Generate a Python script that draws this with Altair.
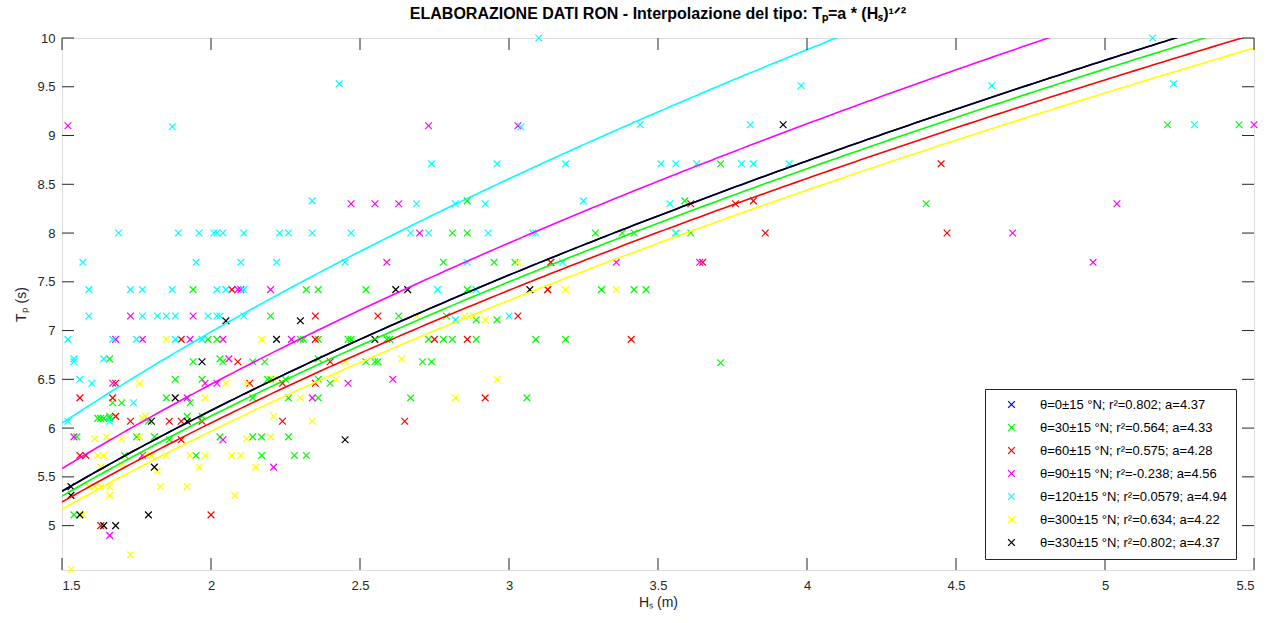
import altair as alt
import pandas as pd
import numpy as np

# ---------------- data ----------------
labels = [
    "θ=0±15 °N; r²=0.802; a=4.37",
    "θ=30±15 °N; r²=0.564; a=4.33",
    "θ=60±15 °N; r²=0.575; a=4.28",
    "θ=90±15 °N; r²=-0.238; a=4.56",
    "θ=120±15 °N; r²=0.0579; a=4.94",
    "θ=300±15 °N; r²=0.634; a=4.22",
    "θ=330±15 °N; r²=0.802; a=4.37",
]
colors = ["#0000FF", "#00FF00", "#FF0000", "#FF00FF", "#00FFFF", "#FFFF00", "#000000"]
a_values = [4.37, 4.33, 4.28, 4.56, 4.94, 4.22, 4.37]

blue_hs = []
blue_tp = []

green_hs = [1.94, 2.32, 2.36, 2.20, 1.99, 2.02, 2.30, 2.31, 2.36, 2.46, 2.47,
            1.66, 2.03, 2.36, 1.94, 2.04, 2.14, 2.18,
            1.88, 1.97, 2.19, 2.20, 2.25, 2.36, 2.40,
            1.85, 2.14, 2.26, 2.36, 1.67, 1.70, 1.93,
            1.62, 1.63, 1.64, 1.66, 1.66, 1.92, 1.97, 1.79,
            1.55, 1.75, 1.81, 2.03, 2.14, 2.17, 2.26, 1.86,
            1.71, 1.95, 2.17, 2.28, 2.32, 1.54,
            2.86, 2.81, 2.86, 3.29, 3.38, 3.42,
            2.78, 2.95, 3.02, 3.14,
            2.52, 2.86, 3.13, 3.31, 3.42,
            2.63, 2.79, 2.89, 2.96,
            2.59, 2.60, 2.73, 2.78, 2.81, 2.89, 3.09, 3.19,
            2.52, 2.55, 2.56, 2.71, 2.74,
            2.67, 3.06,
            3.71, 3.59, 4.40, 3.56, 3.61, 3.46,
            5.21, 5.45, 3.71]
green_tp = [7.42, 7.42, 7.42, 7.15, 6.91, 6.91, 6.91, 6.91, 6.91, 6.91, 6.91,
            6.71, 6.71, 6.71, 6.68, 6.68, 6.68, 6.68,
            6.50, 6.50, 6.50, 6.50, 6.50, 6.50, 6.46,
            6.31, 6.31, 6.31, 6.31, 6.26, 6.26, 6.26,
            6.10, 6.10, 6.10, 6.10, 6.12, 6.12, 6.12, 6.07,
            5.91, 5.91, 5.91, 5.91, 5.91, 5.91, 5.91, 5.88,
            5.72, 5.72, 5.72, 5.72, 5.72, 5.11,
            8.33, 8.00, 8.00, 8.00, 8.00, 8.00,
            7.70, 7.70, 7.70, 7.70,
            7.42, 7.42, 7.42, 7.42, 7.42,
            7.15, 7.15, 7.11, 7.11,
            6.91, 6.91, 6.91, 6.91, 6.91, 6.91, 6.91, 6.91,
            6.68, 6.68, 6.68, 6.68, 6.68,
            6.31, 6.31,
            8.71, 8.33, 8.30, 8.00, 8.00, 7.42,
            9.11, 9.11, 6.67]

red_hs = [2.07, 2.35, 1.90, 2.35, 2.09, 2.40,
          1.68, 2.13, 2.24, 2.35,
          1.56, 1.67, 1.68,
          1.73, 1.86, 1.90, 1.97, 2.24,
          1.90, 1.56, 1.58, 2.00, 1.63,
          3.14, 3.13,
          2.56, 3.03, 2.75, 2.86, 3.41, 2.92, 2.65,
          4.45, 3.61, 3.76, 3.82, 3.86, 4.47, 3.65]
red_tp = [7.42, 7.15, 6.91, 6.91, 6.68, 6.68,
          6.46, 6.46, 6.46, 6.46,
          6.31, 6.31, 6.12,
          6.07, 6.07, 6.07, 6.07, 6.07,
          5.88, 5.72, 5.72, 5.11, 5.00,
          7.70, 7.42,
          7.15, 7.15, 6.91, 6.91, 6.91, 6.31, 6.07,
          8.71, 8.30, 8.30, 8.33, 8.00, 8.00, 7.70]

magenta_hs = [1.52, 2.47, 2.09, 2.10, 2.20,
              1.73, 1.94,
              1.68, 1.77, 1.93, 2.04, 2.27,
              2.06,
              1.67, 1.98, 2.02, 2.46,
              1.92, 2.34,
              1.54, 2.04, 1.77, 2.21, 1.66,
              2.73, 3.03, 2.55, 2.63, 2.70, 2.59, 3.36,
              2.61, 3.64,
              5.50, 5.04, 4.69, 4.96]
magenta_tp = [9.10, 8.30, 7.42, 7.42, 7.42,
              7.15, 7.15,
              6.91, 6.91, 6.91, 6.91, 6.91,
              6.71,
              6.46, 6.46, 6.46, 6.46,
              6.31, 6.31,
              5.91, 5.88, 5.72, 5.60, 4.90,
              9.10, 9.10, 8.30, 8.30, 8.00, 7.70, 7.70,
              6.50, 7.70,
              9.11, 8.30, 8.00, 7.70]

cyan_hs = [1.87, 2.43, 2.34,
           1.69, 1.89, 1.96, 2.01, 2.02, 2.04, 2.11, 2.23, 2.26, 2.34, 2.47,
           1.57, 1.95, 2.10, 2.22, 2.45,
           1.59, 1.73, 1.77, 1.87, 2.02, 2.05, 2.11,
           1.59, 1.77, 1.82, 1.85, 1.88, 1.99, 2.02, 2.03, 2.11,
           1.52, 1.67, 1.75, 1.88, 1.97,
           1.54, 1.64, 1.54, 1.56, 1.60, 1.74, 1.52, 1.66,
           3.10, 3.04, 2.74, 2.96, 3.19,
           2.69, 2.82, 2.92, 3.25,
           2.67, 2.73, 2.93, 3.08, 3.09,
           2.86, 3.18, 2.76, 2.89,
           2.82, 3.00,
           3.98, 3.44, 3.81,
           3.51, 3.56, 3.63, 3.78, 3.82, 3.94,
           3.54, 3.56,
           5.16, 4.62, 5.23, 5.30]
cyan_tp = [9.09, 9.53, 8.33,
           8.00, 8.00, 8.00, 8.00, 8.00, 8.00, 8.00, 8.00, 8.00, 8.00, 8.00,
           7.70, 7.70, 7.70, 7.70, 7.70,
           7.42, 7.42, 7.42, 7.42, 7.42, 7.42, 7.42,
           7.15, 7.15, 7.15, 7.15, 7.15, 7.15, 7.15, 7.15, 7.15,
           6.91, 6.91, 6.91, 6.91, 6.91,
           6.71, 6.71, 6.68, 6.50, 6.46, 6.26, 6.07, 6.07,
           10.0, 9.09, 8.71, 8.71, 8.71,
           8.30, 8.30, 8.30, 8.33,
           8.00, 8.00, 8.00, 8.00, 8.00,
           7.70, 7.70, 7.42, 7.42,
           7.11, 7.15,
           9.51, 9.11, 9.11,
           8.71, 8.71, 8.71, 8.71, 8.71, 8.71,
           8.30, 8.00,
           10.0, 9.51, 9.53, 9.11]

yellow_hs = [1.85, 2.17, 2.45, 2.21, 2.42,
             1.76, 2.05, 2.12,
             1.98, 2.30,
             1.77, 1.78, 2.21, 2.34,
             1.61, 1.65, 1.70, 1.76, 2.12, 2.20,
             1.62, 1.64, 1.78, 1.80, 1.85, 1.93, 1.98, 2.07, 2.10,
             1.63, 1.70, 1.96, 2.15, 1.82,
             1.59, 1.61, 1.63, 1.66, 1.83, 1.92,
             1.66, 2.08, 1.57, 1.73, 1.53,
             3.03, 3.19, 3.36,
             2.69, 2.85, 2.88, 2.92, 2.64, 2.96, 2.82]
yellow_tp = [6.91, 6.91, 6.68, 6.50, 6.50,
             6.46, 6.46, 6.46,
             6.31, 6.31,
             6.10, 6.12, 6.12, 6.07,
             5.89, 5.91, 5.89, 5.91, 5.89, 5.91,
             5.72, 5.72, 5.72, 5.72, 5.72, 5.72, 5.72, 5.72, 5.72,
             5.60, 5.63, 5.60, 5.60, 5.56,
             5.40, 5.40, 5.40, 5.40, 5.40, 5.40,
             5.31, 5.31, 5.11, 4.70, 4.55,
             7.70, 7.42, 7.42,
             7.15, 7.15, 7.15, 7.11, 6.71, 6.50, 6.31]

black_hs = [2.05, 2.30, 2.22, 1.97, 1.88, 1.80, 1.92, 2.45, 1.81,
            1.53, 1.53, 1.56, 1.79, 1.64, 1.68,
            2.62, 2.66, 3.07, 2.55, 3.92]
black_tp = [7.10, 7.10, 6.91, 6.68, 6.31, 6.07, 6.07, 5.88, 5.60,
            5.40, 5.31, 5.11, 5.11, 5.00, 5.00,
            7.42, 7.42, 7.42, 6.91, 9.11]

x_ticks = [1.5, 2, 2.5, 3, 3.5, 4, 4.5, 5, 5.5]
y_ticks = [5, 5.5, 6, 6.5, 7, 7.5, 8, 8.5, 9, 9.5, 10]

# ---------------- tables ----------------
series_hs = [blue_hs, green_hs, red_hs, magenta_hs, cyan_hs, yellow_hs, black_hs]
series_tp = [blue_tp, green_tp, red_tp, magenta_tp, cyan_tp, yellow_tp, black_tp]
rows = []
for lab, hs, tp in zip(labels, series_hs, series_tp):
    for h, t in zip(hs, tp):
        rows.append({"Hs": h, "Tp": t, "serie": lab})
pts = pd.DataFrame(rows)

grid = np.linspace(1.5, 5.5, 201)
crows = []
for i, (lab, a) in enumerate(zip(labels, a_values)):
    for h in grid:
        crows.append({"Hs": h, "Tp": a * np.sqrt(h), "serie": lab, "k": i})
curves = pd.DataFrame(crows)

xt = pd.DataFrame({"v": x_ticks})
yt = pd.DataFrame({"v": y_ticks})

# ---------------- chart ----------------
W, H = 1192, 532
FONT = "Liberation Sans"
AX = "#262626"
XPATH = "M-1,-1L1,1M-1,1L1,-1"

xs = alt.Scale(domain=[1.5, 5.5], nice=False, zero=False)
ys = alt.Scale(domain=[4.545, 10], nice=False, zero=False)

x_axis = alt.Axis(values=x_ticks, format="~g", ticks=True, tickSize=5, tickOpacity=0,
                  domain=False, grid=False,
                  labelFont=FONT, labelFontSize=13, labelColor=AX, labelPadding=4,
                  title="Hₛ (m)", titleFont=FONT, titleFontSize=14, titleFontWeight="normal",
                  titleColor=AX, titlePadding=3)
y_axis = alt.Axis(values=y_ticks, format="~g", ticks=False, domain=False, grid=False,
                  labelFont=FONT, labelFontSize=13, labelColor=AX, labelPadding=7,
                  title="Tₚ (s)", titleFont=FONT, titleFontSize=14, titleFontWeight="normal",
                  titleColor=AX, titlePadding=8)

points = alt.Chart(pts).mark_point(shape=XPATH, filled=False, size=45, strokeWidth=1.2, opacity=1).encode(
    x=alt.X("Hs:Q", scale=xs, axis=x_axis),
    y=alt.Y("Tp:Q", scale=ys, axis=y_axis),
    color=alt.Color("serie:N", scale=alt.Scale(domain=labels, range=colors),
                    legend=alt.Legend(orient="none", legendX=923, legendY=351, title=None,
                                      symbolType=XPATH, symbolSize=45, symbolStrokeWidth=1.3,
                                      labelFont=FONT, labelFontSize=13, labelColor="black",
                                      labelLimit=400, padding=9, rowPadding=9,
                                      symbolOffset=11, labelOffset=22,
                                      fillColor="white", strokeColor=AX, cornerRadius=0)),
)

lines = alt.Chart(curves).mark_line(strokeWidth=1.6, clip=True).encode(
    x=alt.X("Hs:Q", scale=xs),
    y=alt.Y("Tp:Q", scale=ys),
    stroke=alt.Stroke("serie:N", scale=alt.Scale(domain=labels, range=colors), legend=None),
    order="k:Q",
    detail="k:N",
)

tick_style = dict(color=AX, strokeWidth=1)
xb = alt.Chart(xt).mark_rule(**tick_style).encode(x=alt.X("v:Q", scale=xs), y=alt.value(H), y2=alt.value(H - 12))
xtop = alt.Chart(xt).mark_rule(**tick_style).encode(x=alt.X("v:Q", scale=xs), y=alt.value(0), y2=alt.value(12))
yl = alt.Chart(yt).mark_rule(**tick_style).encode(y=alt.Y("v:Q", scale=ys), x=alt.value(0), x2=alt.value(12))
yr = alt.Chart(yt).mark_rule(**tick_style).encode(y=alt.Y("v:Q", scale=ys), x=alt.value(W), x2=alt.value(W - 12))

chart = alt.layer(points, lines, xb, xtop, yl, yr).resolve_scale(color="independent").properties(
    width=W, height=H,
    title=alt.TitleParams(text="ELABORAZIONE DATI RON - Interpolazione del tipo: Tₚ=a * (Hₛ)¹ᐟ²",
                          font=FONT, fontSize=16, fontWeight="bold", color="black",
                          anchor="middle", offset=10),
    padding={"left": 62, "top": 38, "right": 20, "bottom": 53},
    autosize=alt.AutoSizeParams(type="none"),
).configure_view(stroke=AX, strokeWidth=1).configure(background="white")

chart.save("out.html", embed_options={"renderer": "svg", "actions": False})
